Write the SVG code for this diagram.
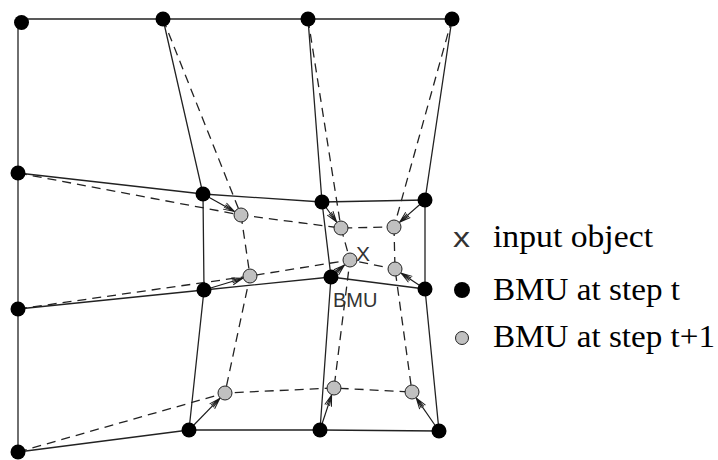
<svg xmlns="http://www.w3.org/2000/svg" width="718" height="460" viewBox="0 0 718 460">
<style>
.grid{fill:none;stroke:#222;stroke-width:1.3}
.dash{fill:none;stroke:#222;stroke-width:1.3;stroke-dasharray:9 6}
.arr{fill:none;stroke:#1a1a1a;stroke-width:1.2}
.bn{fill:#000}
.gn{fill:#c0c0c0;stroke:#222;stroke-width:1}
.lbl{font-family:"Liberation Sans",Arial,sans-serif;fill:#333}
.leg{font-family:"Liberation Serif","Times New Roman",serif;fill:#000;font-size:32px}
</style>
<defs>
<marker id="ah" markerWidth="14" markerHeight="10" refX="0" refY="0" orient="auto" markerUnits="userSpaceOnUse" overflow="visible">
<path d="M-11,-3.5 L0,0 L-11,3.5 M-11,-1.5 L0,0 M-11,1.5 L0,0" fill="none" stroke="#1a1a1a" stroke-width="1"/>
</marker>
</defs>
<rect width="718" height="460" fill="#fff"/>
<g id="connectors">
<polyline class="grid" points="21,19 163,19 308,19 452,19"/>
<polyline class="grid" points="18,173 203,194 322,202 425,200"/>
<polyline class="grid" points="18,309 204,290 331,277 425,289"/>
<polyline class="grid" points="18,452 189,430 320,430 439,431"/>
<polyline class="grid" points="18,22 18,173 18,309 18,452"/>
<polyline class="grid" points="163,19 203,194 204,290 189,430"/>
<polyline class="grid" points="308,19 322,202 331,277 320,430"/>
<polyline class="grid" points="452,19 425,200 425,289 439,431"/>
<polyline class="dash" points="163,19 241,215"/>
<polyline class="dash" points="308,19 341,228"/>
<polyline class="dash" points="452,19 394,227"/>
<polyline class="dash" points="18,173 241,215 341,228 394,227"/>
<polyline class="dash" points="18,309 250,276 350,260 395,269"/>
<polyline class="dash" points="18,452 225,393 334,388 412,392"/>
<polyline class="dash" points="241,215 250,276 225,393"/>
<polyline class="dash" points="341,228 350,260 334,388"/>
<polyline class="dash" points="394,227 395,269 412,392"/>
<line class="arr" x1="203" y1="194" x2="234.4" y2="211.4" marker-end="url(#ah)"/>
<line class="arr" x1="322" y1="202" x2="336.6" y2="222" marker-end="url(#ah)"/>
<line class="arr" x1="425" y1="200" x2="399.7" y2="222.1" marker-end="url(#ah)"/>
<line class="arr" x1="204" y1="290" x2="242.8" y2="278.2" marker-end="url(#ah)"/>
<line class="arr" x1="331" y1="277" x2="344.4" y2="265" marker-end="url(#ah)"/>
<line class="arr" x1="425" y1="289" x2="401.2" y2="273.2" marker-end="url(#ah)"/>
<line class="arr" x1="189" y1="430" x2="219.8" y2="398.4" marker-end="url(#ah)"/>
<line class="arr" x1="320" y1="430" x2="331.6" y2="395.1" marker-end="url(#ah)"/>
<line class="arr" x1="439" y1="431" x2="416.3" y2="398.1" marker-end="url(#ah)"/>
</g>
<g id="n00"><circle class="bn" cx="21.5" cy="22.5" r="7.5"/></g>
<g id="n01"><circle class="bn" cx="163" cy="19" r="7.5"/></g>
<g id="n02"><circle class="bn" cx="308" cy="19" r="7.5"/></g>
<g id="n03"><circle class="bn" cx="452" cy="19" r="7.5"/></g>
<g id="n10"><circle class="bn" cx="18" cy="173" r="7.5"/></g>
<g id="n11"><circle class="bn" cx="203" cy="194" r="7.5"/></g>
<g id="n12"><circle class="bn" cx="322" cy="202" r="7.5"/></g>
<g id="n13"><circle class="bn" cx="425" cy="200" r="7.5"/></g>
<g id="n20"><circle class="bn" cx="18" cy="309" r="7.5"/></g>
<g id="n21"><circle class="bn" cx="204" cy="290" r="7.5"/></g>
<g id="bmu"><circle class="bn" cx="331" cy="277" r="7.5"/><text class="lbl" x="333" y="307" font-size="20">BMU</text></g>
<g id="n23"><circle class="bn" cx="425" cy="289" r="7.5"/></g>
<g id="n30"><circle class="bn" cx="18" cy="452" r="7.5"/></g>
<g id="n31"><circle class="bn" cx="189" cy="430" r="7.5"/></g>
<g id="n32"><circle class="bn" cx="320" cy="430" r="7.5"/></g>
<g id="n33"><circle class="bn" cx="439" cy="431" r="7.5"/></g>
<g id="g11"><circle class="gn" cx="241" cy="215" r="7"/></g>
<g id="g12"><circle class="gn" cx="341" cy="228" r="7"/></g>
<g id="g13"><circle class="gn" cx="394" cy="227" r="7"/></g>
<g id="g21"><circle class="gn" cx="250" cy="276" r="7"/></g>
<g id="g22"><circle class="gn" cx="350" cy="260" r="7"/></g>
<g id="g23"><circle class="gn" cx="395" cy="269" r="7"/></g>
<g id="g31"><circle class="gn" cx="225" cy="393" r="7"/></g>
<g id="g32"><circle class="gn" cx="334" cy="388" r="7"/></g>
<g id="g33"><circle class="gn" cx="412" cy="392" r="7"/></g>
<g id="input"><text class="lbl" x="363" y="261" font-size="21" text-anchor="middle">X</text></g>
<g id="legend">
<text class="lbl" x="453" y="247" font-size="27" textLength="17" lengthAdjust="spacingAndGlyphs">x</text>
<text class="leg" x="493" y="247" textLength="160" lengthAdjust="spacingAndGlyphs">input object</text>
<circle class="bn" cx="462" cy="290" r="8"/>
<text class="leg" x="493" y="300" textLength="187" lengthAdjust="spacingAndGlyphs">BMU at step t</text>
<circle class="gn" cx="462" cy="338" r="6.5"/>
<text class="leg" x="493" y="347" textLength="222" lengthAdjust="spacingAndGlyphs">BMU at step t+1</text>
</g>
</svg>
